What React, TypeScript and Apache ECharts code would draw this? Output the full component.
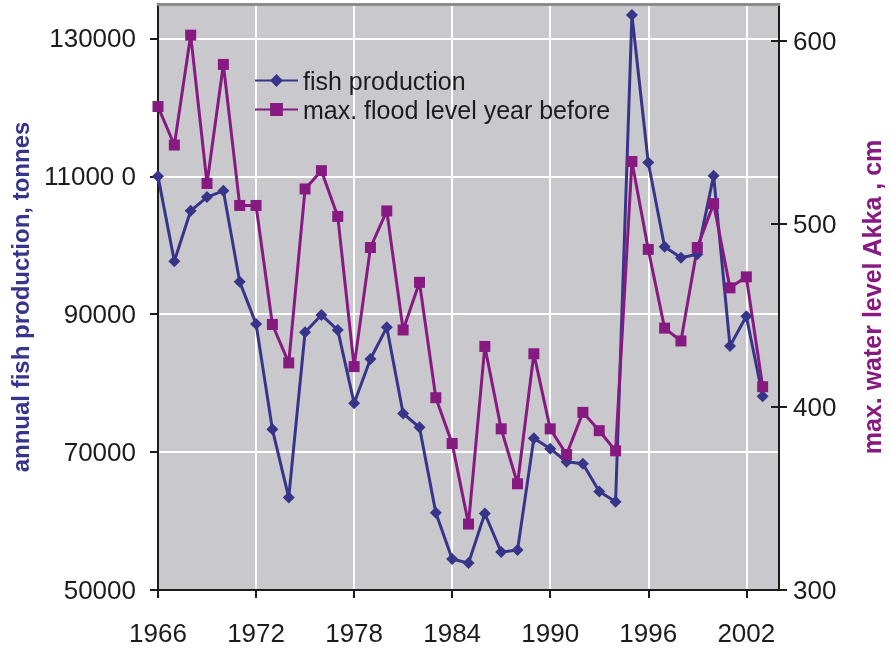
import React, { useEffect, useRef } from "react";
import * as echarts from "echarts";

const years = [
  1966, 1967, 1968, 1969, 1970, 1971, 1972, 1973, 1974, 1975, 1976, 1977, 1978,
  1979, 1980, 1981, 1982, 1983, 1984, 1985, 1986, 1987, 1988, 1989, 1990, 1991,
  1992, 1993, 1994, 1995, 1996, 1997, 1998, 1999, 2000, 2001, 2002, 2003,
];
const fishProduction = [
  110000, 97700, 105000, 107000, 107900, 94700, 88600, 73300, 63400, 87400,
  89900, 87700, 77100, 83500, 88100, 75600, 73600, 61200, 54500, 53900, 61100,
  55500, 55800, 72000, 70500, 68600, 68300, 64300, 62800, 133400, 112000, 99800,
  98200, 98700, 110100, 85400, 89700, 78100,
];
const floodLevel = [
  564, 543, 603, 522, 587, 510, 510, 445, 424, 519, 529, 504, 422, 487, 507,
  442, 468, 405, 380, 336, 433, 388, 358, 429, 388, 374, 397, 387, 376, 534,
  486, 443, 436, 487, 511, 465, 471, 411,
];
const xTickYears = [1966, 1972, 1978, 1984, 1990, 1996, 2002];
const leftTickValues = [50000, 70000, 90000, 110000, 130000];
const leftTickLabels = ["50000", "70000", "90000", "11000 0", "130000"];
const rightTickValues = [300, 400, 500, 600];
const seriesNames = ["fish production", "max. flood level year before"];
const leftAxisName = "annual fish production, tonnes";
const rightAxisName = "max. water level Akka , cm";

const FONT = "'Liberation Sans', Arial, sans-serif";
const BLUE = "#37358a";
const PURPLE = "#861a80";
const INK = "#1c1c1c";

export default function App() {
  const ref = useRef<HTMLDivElement>(null);
  useEffect(() => {
    const chart = echarts.init(ref.current!, null, { renderer: "svg" });
    const axisLineStyle = { color: INK, width: 2 };
    const labelStyle = { color: INK, fontSize: 26, fontFamily: FONT };
    chart.setOption({
      animation: false,
      grid: {
        left: 158,
        right: 107,
        top: 4,
        bottom: 60,
        show: true,
        backgroundColor: "#c9c9cd",
        borderWidth: 0,
      },
      legend: {
        data: seriesNames,
        orient: "vertical",
        left: 249,
        top: 63,
        itemWidth: 43,
        itemHeight: 16,
        itemGap: 4,
        textStyle: { color: INK, fontSize: 25, fontFamily: FONT },
      },
      xAxis: [
        {
          type: "value",
          min: 1966,
          max: 2004,
          axisLine: { lineStyle: axisLineStyle },
          axisTick: {
            customValues: xTickYears,
            length: 8,
            lineStyle: axisLineStyle,
          },
          axisLabel: {
            customValues: xTickYears,
            margin: 30,
            formatter: (v: number) => String(v),
            ...labelStyle,
          },
          splitLine: { show: true, lineStyle: { color: "#ffffff", width: 2 } },
        },
        {
          type: "value",
          position: "top",
          min: 1966,
          max: 2004,
          axisLine: { lineStyle: { color: "#8c8c8c", width: 3 } },
          axisTick: { show: false },
          axisLabel: { show: false },
          splitLine: { show: false },
        },
      ],
      yAxis: [
        {
          type: "value",
          position: "left",
          min: 50000,
          max: 135000,
          name: leftAxisName,
          nameLocation: "middle",
          nameRotate: 90,
          nameGap: 126,
          nameTextStyle: {
            color: BLUE,
            fontSize: 24,
            fontWeight: "bold",
            fontFamily: FONT,
          },
          axisLine: { show: true, lineStyle: axisLineStyle },
          axisTick: {
            show: true,
            customValues: leftTickValues,
            length: 8,
            lineStyle: axisLineStyle,
          },
          axisLabel: {
            customValues: leftTickValues,
            margin: 22,
            formatter: (v: number) => {
              const i = leftTickValues.indexOf(v);
              return i >= 0 ? leftTickLabels[i] : "";
            },
            ...labelStyle,
          },
          splitLine: { show: true, lineStyle: { color: "#ffffff", width: 2 } },
        },
        {
          type: "value",
          position: "right",
          min: 300,
          max: 620,
          name: rightAxisName,
          nameLocation: "middle",
          nameRotate: 90,
          nameGap: 80,
          nameTextStyle: {
            color: PURPLE,
            fontSize: 25,
            fontWeight: "bold",
            fontFamily: FONT,
          },
          axisLine: { show: true, lineStyle: axisLineStyle },
          axisTick: {
            show: true,
            customValues: rightTickValues,
            length: 8,
            lineStyle: axisLineStyle,
          },
          axisLabel: {
            customValues: rightTickValues,
            margin: 14,
            formatter: (v: number) => String(v),
            ...labelStyle,
          },
          splitLine: { show: false },
        },
        {
          type: "value",
          position: "right",
          min: 300,
          max: 620,
          axisLine: { show: false },
          axisTick: {
            show: true,
            inside: true,
            customValues: rightTickValues,
            length: 8,
            lineStyle: axisLineStyle,
          },
          axisLabel: { show: false },
          splitLine: { show: false },
        },
      ],
      series: [
        {
          name: seriesNames[0],
          type: "line",
          xAxisIndex: 0,
          yAxisIndex: 0,
          data: years.map((y, i) => [y, fishProduction[i]]),
          symbol: "diamond",
          symbolSize: 12,
          lineStyle: { color: BLUE, width: 3 },
          itemStyle: { color: BLUE },
        },
        {
          name: seriesNames[1],
          type: "line",
          xAxisIndex: 0,
          yAxisIndex: 1,
          data: years.map((y, i) => [y, floodLevel[i]]),
          symbol: "rect",
          symbolSize: 11,
          lineStyle: { color: PURPLE, width: 3 },
          itemStyle: { color: PURPLE },
        },
      ],
    });
    return () => chart.dispose();
  }, []);
  return (
    <div
      ref={ref}
      style={{ position: "fixed", left: 0, top: 0, width: 892, height: 650 }}
    />
  );
}
